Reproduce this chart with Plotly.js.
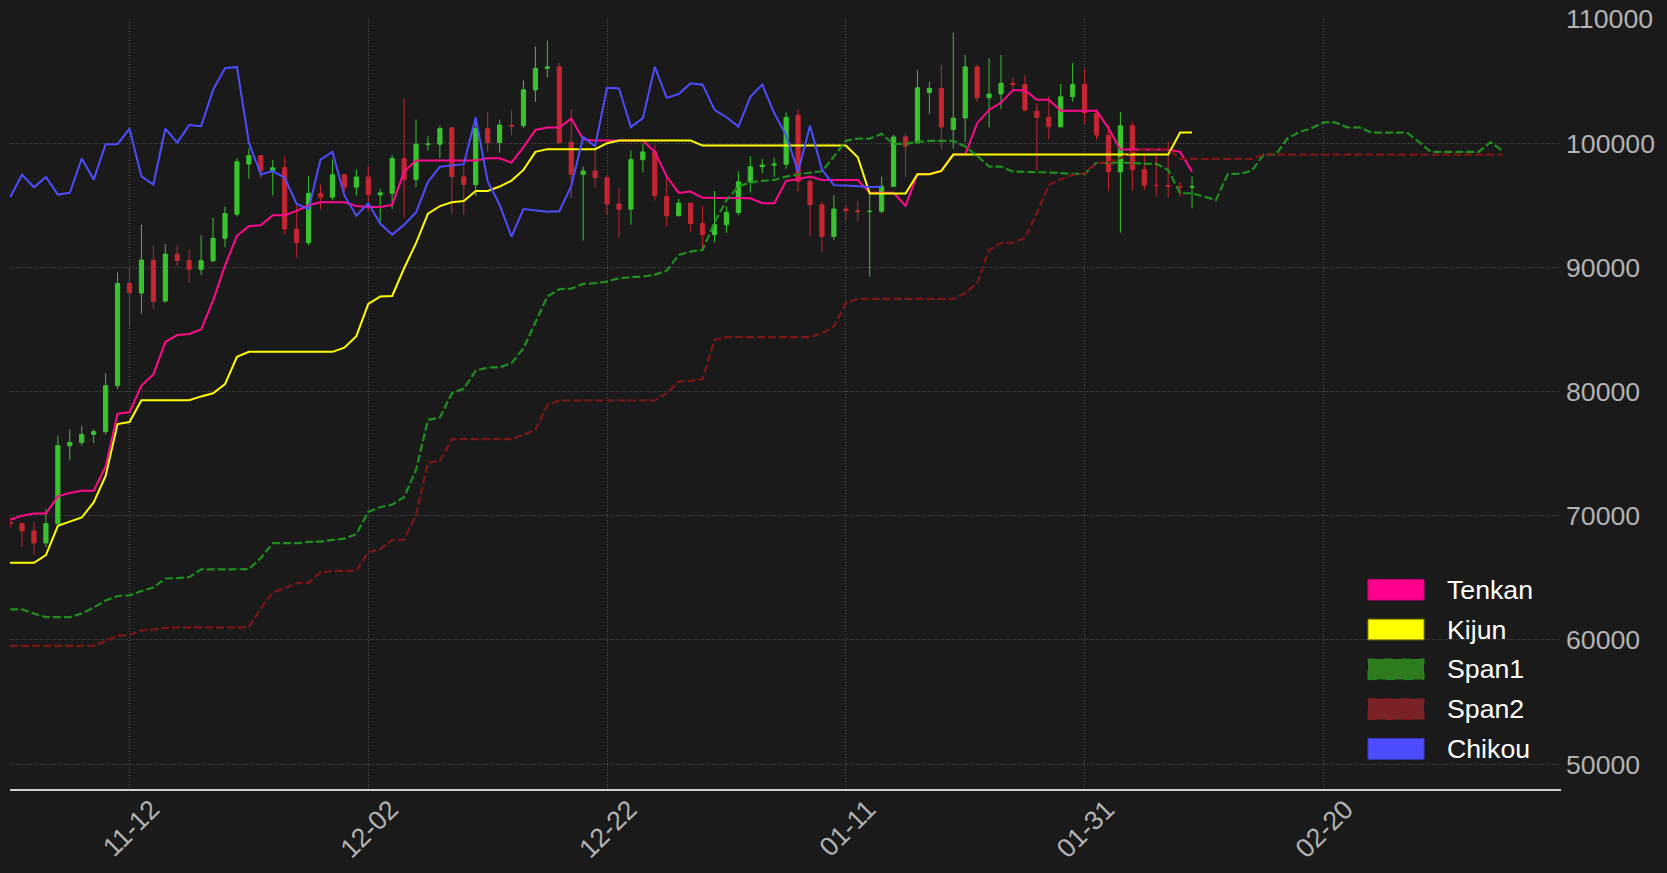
<!DOCTYPE html>
<html>
<head>
<meta charset="utf-8">
<script src="https://cdn.plot.ly/plotly-3.0.1.min.js"></script>
<style>
  html, body { margin: 0; padding: 0; background: #1a1a1a; }
  #chart { width: 1667px; height: 873px; }
</style>
</head>
<body>
<div id="chart"></div>
<script>
// ---------- DATA (daily BTC candles, 2024-11-02 .. 2025-02-09) ----------
const firstDay = '2024-11-02';

const open = [69486,69374,68776,67811,69359,75637,75902,76556,76775,80471,
  88705,87929,90575,87284,91065,90558,89843,90536,92341,94286,
  98318,99006,97777,98033,93087,91979,95954,95654,97461,96461,
  97276,95840,95965,98741,97074,99916,99921,101237,97295,96658,
  101167,100046,101451,101417,104293,106030,106147,100070,97484,97756,
  97218,95099,94685,98675,99297,95704,94160,95174,93528,92644,
  93425,94416,96881,98107,98233,98314,102248,96924,95043,92495,
  94702,94565,94489,94519,96525,100505,100026,104077,104409,101100,
  102029,106136,103657,103965,104819,104713,102577,102080,101318,103734,
  104737,102405,100636,97681,101398,97878,96612,96581,96506,96462];
const high = [69867,69392,69483,70522,76461,76943,77252,76999,81474,89604,
  89957,93434,91765,91868,91763,91433,92594,94002,94903,98789,
  99589,99015,98647,98935,94974,97361,96651,98694,97463,97888,
  98152,96306,99045,103600,101899,100563,101399,101237,98230,101913,
  102541,101892,102618,105047,107781,108268,106470,102748,98098,99540,
  97360,96416,99404,99963,99885,97294,95525,95174,94903,96158,
  94929,97739,98956,98734,98813,102482,102713,97259,95349,95837,
  94977,95367,95837,97309,100681,100782,105885,104948,106314,108900,
  107112,106327,106851,107097,105286,105471,103222,103784,104782,106457,
  106012,102755,101457,102500,101731,99112,99167,100137,96880,97320];
const low = [69033,67478,66836,67459,69322,74480,75649,75848,76565,80216,
  85155,86256,86668,87124,90094,88741,89376,90401,91619,94101,
  97123,97232,95789,92643,90791,91778,94678,95407,96093,95770,
  94482,93579,94700,94000,96433,99401,98772,94325,94256,95747,
  99339,99233,100634,101228,103322,105291,100041,95588,92175,96426,
  94202,92403,93448,97632,95385,93311,94124,92881,91318,92035,
  92788,94202,96034,97563,97291,97926,96132,92525,91220,92207,
  93841,93712,89260,94349,96499,97271,99969,102342,99539,99551,
  100107,103319,101263,102757,104107,102545,97795,100310,101294,103328,
  101560,100297,96180,92800,96207,96217,95707,95620,95688,94750];
const close = [69374,68776,67811,69360,75640,75904,76546,76778,80475,88701,
  87955,90585,87250,91066,90558,89845,90542,92343,94339,98505,
  98997,97777,98013,93102,91986,95962,95653,97461,96449,97279,
  95865,96002,98768,97070,99920,99923,101170,97323,96676,101173,
  100043,101459,101373,104298,106030,106140,100042,97490,97756,97225,
  95104,94686,98676,99299,95795,94164,95163,93530,92643,93429,
  94419,96886,98107,98237,98315,102078,96922,95043,92484,94701,
  94566,94488,94516,96534,100505,99757,104462,104409,101300,102016,
  106146,103653,103960,104820,104714,102682,102087,101332,103733,104722,
  102429,100655,97688,101405,97871,96615,96593,96529,96482,96500];

// Ichimoku lines
const tenkan = [69670,70010,70180,70180,71560,71840,72010,72010,73960,78220,
  78330,80480,81380,83990,84550,84640,85000,87320,90140,92540,
  93310,93400,94200,94200,94550,95000,95250,95250,95250,94950,
  94870,94870,95030,97710,98600,98600,98600,98600,98600,98600,
  98780,98780,98440,99680,101070,101260,101260,101980,100320,100210,
  100210,100210,100210,100210,99300,97310,96000,96100,95600,95600,
  95570,95570,95570,95170,95170,96970,97100,97310,97040,97040,
  97040,97040,96020,96000,96000,94950,97500,97500,97770,99080,
  99080,101610,102680,103270,104270,104270,103490,103490,102620,102620,
  102620,102620,101210,99490,99490,99490,99490,99490,99300,97710];
const kijun = [66220,66220,66220,66840,69190,69530,69860,71080,73200,77380,
  77550,79300,79300,79300,79300,79300,79610,79860,80600,82800,
  83200,83200,83200,83200,83200,83200,83200,83200,83540,84460,
  87060,87650,87700,89930,91950,94330,94930,95250,95350,96160,
  96160,96510,96990,97850,99300,99520,99520,99520,99520,99520,
  100000,100210,100210,100210,100210,100210,100210,100210,99810,99810,
  99810,99810,99810,99810,99810,99810,99810,99810,99810,99810,
  99810,98870,95940,95940,95940,95940,97500,97500,97770,99080,
  99080,99080,99080,99080,99080,99080,99080,99080,99080,99080,
  99080,99080,99080,99080,99080,99080,99080,99080,100860,100860];
const span1 = [62460,62460,62130,61840,61840,61840,62130,62610,63170,63540,
  63590,63940,64220,64950,64980,65060,65680,65680,65680,65680,
  65700,66600,67790,67790,67790,67900,67920,68060,68160,68520,
  70310,70690,70900,71500,73700,77720,77910,79870,80240,81690,
  81940,81960,82290,83490,85510,87650,88240,88290,88670,88730,
  88860,89130,89210,89260,89400,89740,91010,91270,91410,93600,
  95400,96510,96830,96970,97040,97310,97500,97610,97740,98920,
  100190,100370,100370,100750,99940,99940,100100,100190,100190,100190,
  99730,98980,98120,98120,97710,97660,97660,97660,97580,97530,
  97530,98440,98390,98470,98390,98390,98330,97850,95970,95970,
  95700,95430,97530,97530,97780,99080,99080,100400,100900,101200,
  101670,101670,101280,101280,100850,100850,100850,100850,100100,99300,
  99300,99300,99300,99300,100080,99400];
const span2 = [59530,59530,59530,59530,59530,59530,59530,59530,59920,60350,
  60400,60780,60840,60970,61020,61020,61020,61020,61020,61020,
  61020,62560,63820,64170,64570,64600,65430,65560,65560,65560,
  67070,67300,68070,68070,70070,74280,74420,76170,76170,76170,
  76170,76170,76170,76510,76920,78930,79280,79280,79280,79280,
  79280,79280,79280,79280,79280,79870,80810,80860,81000,84160,
  84380,84380,84380,84380,84380,84380,84380,84380,84700,85240,
  87120,87460,87460,87460,87460,87460,87460,87460,87460,87460,
  87920,88730,91410,91950,92000,92350,94360,96640,97100,97450,
  97580,98400,98450,98800,99340,99530,99530,99530,98740,98740,
  98740,98740,98740,98740,98740,99080,99080,99080,99080,99080,
  99080,99080,99080,99080,99080,99080,99080,99080,99080,99080,
  99080,99080,99080,99080,99080,99080];
const chikou = [95653,97461,96449,97279,95865,96002,98768,97070,99920,99923,
  101170,97323,96676,101173,100043,101459,101373,104298,106030,106140,
  100042,97490,97756,97225,95104,94686,98676,99299,95795,94164,
  95163,93530,92643,93429,94419,96886,98107,98237,98315,102078,
  96922,95043,92484,94701,94566,94488,94516,96534,100505,99757,
  104462,104409,101300,102016,106146,103653,103960,104820,104714,102682,
  102087,101332,103733,104722,102429,100655,97688,101405,97871,96615,
  96593,96529,96482,96500];

const tickDates  = ['2024-11-12','2024-12-02','2024-12-22','2025-01-11','2025-01-31','2025-02-20'];
const tickLabels = ['11-12','12-02','12-22','01-11','01-31','02-20'];
const yTicks = [50000,60000,70000,80000,90000,100000,110000];

const seriesNames  = ['Tenkan','Kijun','Span1','Span2','Chikou'];
const seriesColors = ['#ff0a8c','#ffff00','#1f8f1f','#7d1616','#4d4dff'];

// ---------- helpers ----------
function dayList(n) {
  const p = firstDay.split('-').map(Number);
  const t0 = Date.UTC(p[0], p[1] - 1, p[2]);
  const out = [];
  for (let k = 0; k < n; k++) out.push(new Date(t0 + k * 86400000).toISOString().slice(0, 10));
  return out;
}
const dates = dayList(span1.length);

const FONT = 'Liberation Sans, Arial, sans-serif';
const lineSpecs = [
  {y: tenkan, dash: 'solid', w: 2},
  {y: kijun,  dash: 'solid', w: 2},
  {y: span1,  dash: '8px,3px', w: 2.2},
  {y: span2,  dash: '8px,3px', w: 2.2},
  {y: chikou, dash: 'solid', w: 2}
];

const traces = [{
  type: 'candlestick',
  x: dates.slice(0, close.length),
  open: open, high: high, low: low, close: close,
  increasing: {line: {color: '#39c32f', width: 1}, fillcolor: '#39c32f'},
  decreasing: {line: {color: '#c42632', width: 1}, fillcolor: '#c42632'},
  whiskerwidth: 0,
  showlegend: false,
  hoverinfo: 'skip'
}];
lineSpecs.forEach(function (s, k) {
  traces.push({
    type: 'scatter', mode: 'lines', name: seriesNames[k],
    x: dates.slice(0, s.y.length), y: s.y,
    line: {color: seriesColors[k], width: s.w, dash: s.dash},
    showlegend: false, hoverinfo: 'skip'
  });
});

// ---------- manual legend (patch swatches) ----------
const swatchFill   = ['#ff008c','#ffff00','#2e7a1f','#7a2228','#4d4dff'];
const swatchBorder = ['#d0007a','#8c8c00','#1f8f1f','#8b1a1a','#3a3ad0'];
const swatchDash   = ['solid','solid','dash','dash','solid'];
const L = 10, R = 1561, T = 19, B = 789;         // plot area in px
const px = v => (v - L) / (R - L);
const py = v => (B - v) / (B - T);
const shapes = [], annotations = [];
seriesNames.forEach(function (nm, k) {
  const cy = 589.7 + k * 39.8;
  shapes.push({
    type: 'rect', xref: 'paper', yref: 'paper',
    x0: px(1368), x1: px(1424), y0: py(cy + 10.3), y1: py(cy - 10.3),
    fillcolor: swatchFill[k],
    line: {color: swatchBorder[k], width: 1, dash: swatchDash[k]}
  });
  annotations.push({
    xref: 'paper', yref: 'paper', x: px(1445), y: py(cy),
    xanchor: 'left', yanchor: 'middle', showarrow: false,
    text: nm, font: {family: FONT, size: 26.7, color: '#ffffff'}
  });
});

const layout = {
  width: 1667, height: 873,
  paper_bgcolor: '#1a1a1a', plot_bgcolor: '#1a1a1a',
  margin: {l: L, r: 1667 - R, t: T, b: 873 - B, pad: 0},
  showlegend: false,
  boxgap: 0.5,
  xaxis: {
    type: 'date',
    range: ['2024-11-01 23:48', '2025-03-11 21:40'],
    rangeslider: {visible: false},
    tickmode: 'array', tickvals: tickDates, ticktext: tickLabels,
    tickangle: -45, ticks: '', ticklabelshift: 22, ticklabelstandoff: -8,
    tickfont: {family: FONT, size: 26.7, color: '#b3b3b3'},
    showgrid: true, gridcolor: '#555555', gridwidth: 1, griddash: '1px,2px',
    showline: true, linecolor: '#cfcfcf', linewidth: 2,
    zeroline: false, fixedrange: true
  },
  yaxis: {
    side: 'right',
    range: [48000, 110000],
    tickmode: 'array', tickvals: yTicks, tickformat: 'd',
    ticks: '', ticklabelstandoff: 4,
    tickfont: {family: FONT, size: 26.7, color: '#b3b3b3'},
    showgrid: true, gridcolor: '#555555', gridwidth: 1, griddash: '1px,2px',
    showline: false, zeroline: false, fixedrange: true
  },
  shapes: shapes,
  annotations: annotations
};

Plotly.newPlot('chart', traces, layout, {displayModeBar: false, staticPlot: true});
</script>
</body>
</html>
